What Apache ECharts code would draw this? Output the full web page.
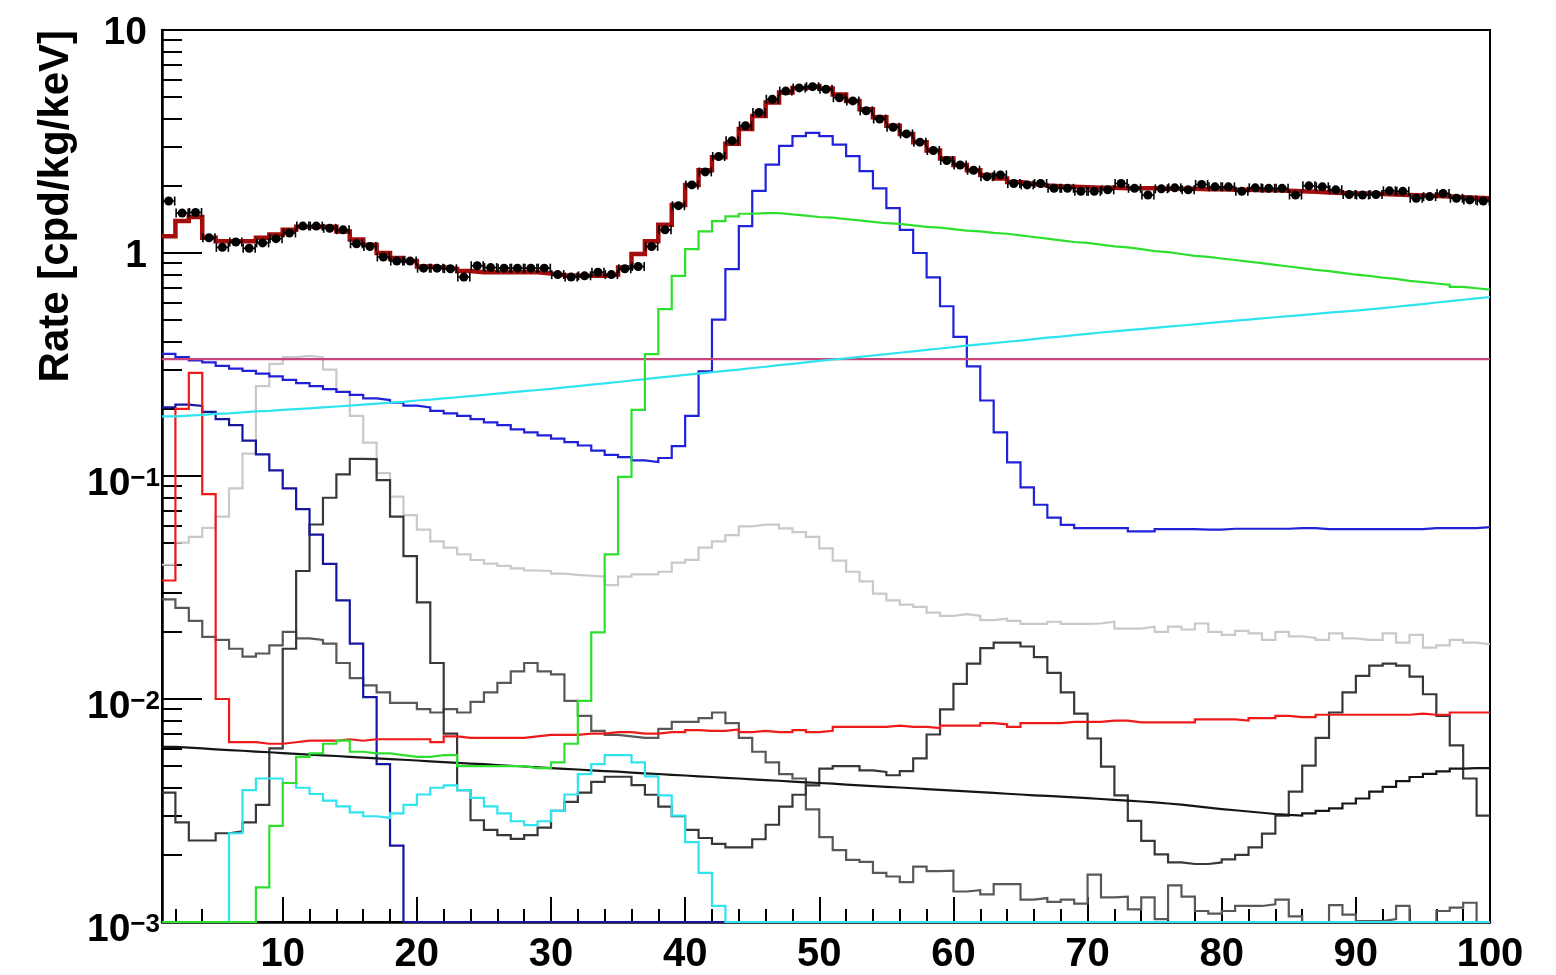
<!DOCTYPE html>
<html>
<head>
<meta charset="utf-8">
<script src="https://cdn.jsdelivr.net/npm/echarts@6/dist/echarts.min.js"></script>
<style>
  html, body { margin: 0; padding: 0; background: #ffffff; }
  #chart { width: 1556px; height: 975px; }
</style>
</head>
<body>
<div id="chart"></div>
<script>
// Energy spectrum, 1 keV bins from 1 to 100 keV, log rate axis.
const X_MIN = 1, X_MAX = 100, Y_MIN = 0.001, Y_MAX = 10;

// lower bin edges (keV)
const binLow = Array.from({ length: 99 }, (_, i) => X_MIN + i);

// tick values
const xMajorTicks = [10, 20, 30, 40, 50, 60, 70, 80, 90, 100];
const yDecades = [0.001, 0.01, 0.1, 1, 10];

// measured rate per bin
const measured = [
  1.71, 1.51, 1.52, 1.17, 1.06, 1.12, 1.05, 1.11, 1.16, 1.23,
  1.32, 1.32, 1.29, 1.27, 1.10, 1.07, 0.96, 0.92, 0.92, 0.855,
  0.855, 0.85, 0.78, 0.877, 0.86, 0.855, 0.855, 0.855, 0.855, 0.80,
  0.78, 0.79, 0.82, 0.80, 0.85, 0.87, 1.07, 1.27, 1.63, 2.02,
  2.31, 2.71, 3.19, 3.72, 4.27, 4.89, 5.32, 5.50, 5.57, 5.42,
  4.97, 4.81, 4.34, 3.99, 3.66, 3.42, 3.14, 2.88, 2.60, 2.48,
  2.35, 2.20, 2.24, 2.05, 2.02, 2.05, 1.95, 1.95, 1.89, 1.89,
  1.92, 2.05, 1.95, 1.82, 1.94, 1.96, 1.92, 2.03, 1.98, 1.98,
  1.89, 1.96, 1.95, 1.95, 1.82, 2.00, 1.98, 1.92, 1.83, 1.82,
  1.83, 1.90, 1.89, 1.76, 1.79, 1.85, 1.76, 1.73, 1.71
];

// sum of all components
const totalFit = [
  1.19, 1.39, 1.45, 1.17, 1.13, 1.13, 1.13, 1.17, 1.21, 1.27,
  1.31, 1.31, 1.31, 1.25, 1.15, 1.09, 1.00, 0.95, 0.92, 0.87,
  0.86, 0.85, 0.83, 0.82, 0.82, 0.82, 0.82, 0.82, 0.81, 0.795,
  0.79, 0.79, 0.79, 0.80, 0.86, 0.99, 1.13, 1.34, 1.64, 2.02,
  2.35, 2.69, 3.09, 3.60, 4.12, 4.73, 5.24, 5.50, 5.60, 5.46,
  5.14, 4.81, 4.41, 4.06, 3.72, 3.42, 3.14, 2.88, 2.65, 2.48,
  2.35, 2.24, 2.16, 2.08, 2.04, 2.01, 1.99, 1.98, 1.97, 1.96,
  1.96, 1.95, 1.95, 1.95, 1.94, 1.94, 1.94, 1.93, 1.93, 1.92,
  1.92, 1.91, 1.91, 1.90, 1.89, 1.88, 1.87, 1.86, 1.85, 1.85,
  1.84, 1.83, 1.82, 1.81, 1.80, 1.79, 1.78, 1.77, 1.76
];

// blue component with the 50 keV peak
const bluePeak = [
  0.353, 0.341, 0.330, 0.323, 0.312, 0.303, 0.296, 0.288, 0.280, 0.270,
  0.261, 0.253, 0.245, 0.238, 0.231, 0.223, 0.219, 0.213, 0.207, 0.203,
  0.196, 0.191, 0.186, 0.180, 0.174, 0.169, 0.162, 0.157, 0.152, 0.147,
  0.142, 0.137, 0.130, 0.1245, 0.1215, 0.1175, 0.1155, 0.1204, 0.136, 0.186,
  0.295, 0.503, 0.847, 1.32, 1.90, 2.49, 3.02, 3.34, 3.46, 3.34,
  3.06, 2.72, 2.33, 1.95, 1.59, 1.27, 1.00, 0.778, 0.577, 0.421,
  0.310, 0.218, 0.157, 0.115, 0.089, 0.0743, 0.065, 0.0604, 0.0584, 0.0584,
  0.0584, 0.0584, 0.0564, 0.0564, 0.0578, 0.0578, 0.0578, 0.0575, 0.0575, 0.058,
  0.058, 0.058, 0.058, 0.058, 0.0584, 0.0584, 0.0578, 0.0578, 0.0578, 0.0578,
  0.0578, 0.0578, 0.0578, 0.0578, 0.0584, 0.0584, 0.0584, 0.0584, 0.059
];

// dark blue low-energy component
const navyLow = [
  0.203, 0.209, 0.206, 0.194, 0.180, 0.169, 0.144, 0.125, 0.106, 0.088,
  0.071, 0.0546, 0.0404, 0.0277, 0.0177, 0.0102, 0.0051, 0.0022, 0, 0,
  0, 0, 0, 0, 0, 0, 0, 0, 0, 0,
  0, 0, 0, 0, 0, 0, 0, 0, 0, 0,
  0, 0, 0, 0, 0, 0, 0, 0, 0, 0,
  0, 0, 0, 0, 0, 0, 0, 0, 0, 0,
  0, 0, 0, 0, 0, 0, 0, 0, 0, 0,
  0, 0, 0, 0, 0, 0, 0, 0, 0, 0,
  0, 0, 0, 0, 0, 0, 0, 0, 0, 0,
  0, 0, 0, 0, 0, 0, 0, 0, 0
];

// green component
const greenComp = [
  0, 0, 0, 0, 0, 0, 0, 0.00143, 0.0027, 0.0042,
  0.0055, 0.0057, 0.0063, 0.0065, 0.0058, 0.0057, 0.0057, 0.0056, 0.0055, 0.0055,
  0.0056, 0.0056, 0.0050, 0.0050, 0.0050, 0.0050, 0.0050, 0.0049, 0.0049, 0.0052,
  0.0063, 0.0098, 0.0199, 0.0445, 0.099, 0.198, 0.352, 0.56, 0.79, 1.04,
  1.25, 1.39, 1.46, 1.50, 1.51, 1.51, 1.49, 1.47, 1.45, 1.44,
  1.42, 1.40, 1.38, 1.36, 1.35, 1.33, 1.31, 1.30, 1.28, 1.26,
  1.25, 1.23, 1.22, 1.20, 1.18, 1.16, 1.14, 1.12, 1.11, 1.09,
  1.07, 1.06, 1.04, 1.02, 1.01, 0.99, 0.97, 0.96, 0.945, 0.93,
  0.915, 0.90, 0.885, 0.87, 0.855, 0.84, 0.83, 0.815, 0.80, 0.79,
  0.775, 0.765, 0.75, 0.74, 0.73, 0.72, 0.705, 0.695, 0.685
];

// rising cyan continuum
const cyanRise = [
  0.185, 0.1865, 0.188, 0.190, 0.191, 0.193, 0.195, 0.196, 0.198, 0.1995,
  0.201, 0.203, 0.205, 0.207, 0.209, 0.211, 0.213, 0.215, 0.218, 0.220,
  0.223, 0.2255, 0.228, 0.231, 0.234, 0.237, 0.240, 0.243, 0.246, 0.2495,
  0.253, 0.257, 0.260, 0.264, 0.268, 0.272, 0.276, 0.280, 0.284, 0.288,
  0.292, 0.296, 0.300, 0.305, 0.309, 0.314, 0.318, 0.323, 0.328, 0.333,
  0.337, 0.342, 0.347, 0.352, 0.357, 0.362, 0.368, 0.373, 0.378, 0.384,
  0.389, 0.394, 0.400, 0.405, 0.411, 0.417, 0.422, 0.428, 0.434, 0.440,
  0.445, 0.451, 0.456, 0.462, 0.468, 0.473, 0.479, 0.485, 0.491, 0.497,
  0.503, 0.509, 0.515, 0.521, 0.527, 0.533, 0.540, 0.546, 0.552, 0.559,
  0.566, 0.574, 0.582, 0.590, 0.600, 0.608, 0.617, 0.626, 0.635
];

// cyan low-energy peaks
const cyanPeaks = [
  0, 0, 0, 0, 0, 0.0025, 0.0039, 0.0044, 0.0044, 0.0042,
  0.0040, 0.00375, 0.0035, 0.0033, 0.0031, 0.00298, 0.00293, 0.00307, 0.00335, 0.00373,
  0.0040, 0.0041, 0.0039, 0.0036, 0.0033, 0.00307, 0.00283, 0.00272, 0.00283, 0.00315,
  0.00373, 0.0046, 0.0051, 0.0056, 0.0056, 0.0052, 0.0045, 0.0037, 0.0030, 0.00228,
  0.00166, 0.00118, 0, 0, 0, 0, 0, 0, 0, 0,
  0, 0, 0, 0, 0, 0, 0, 0, 0, 0,
  0, 0, 0, 0, 0, 0, 0, 0, 0, 0,
  0, 0, 0, 0, 0, 0, 0, 0, 0, 0,
  0, 0, 0, 0, 0, 0, 0, 0, 0, 0,
  0, 0, 0, 0, 0, 0, 0, 0, 0
];

// flat background
const flatBkg = [
  0.334, 0.334, 0.334, 0.334, 0.334, 0.334, 0.334, 0.334, 0.334, 0.334,
  0.334, 0.334, 0.334, 0.334, 0.334, 0.334, 0.334, 0.334, 0.334, 0.334,
  0.334, 0.334, 0.334, 0.334, 0.334, 0.334, 0.334, 0.334, 0.334, 0.334,
  0.334, 0.334, 0.334, 0.334, 0.334, 0.334, 0.334, 0.334, 0.334, 0.334,
  0.334, 0.334, 0.334, 0.334, 0.334, 0.334, 0.334, 0.334, 0.334, 0.334,
  0.334, 0.334, 0.334, 0.334, 0.334, 0.334, 0.334, 0.334, 0.334, 0.334,
  0.334, 0.334, 0.334, 0.334, 0.334, 0.334, 0.334, 0.334, 0.334, 0.334,
  0.334, 0.334, 0.334, 0.334, 0.334, 0.334, 0.334, 0.334, 0.334, 0.334,
  0.334, 0.334, 0.334, 0.334, 0.334, 0.334, 0.334, 0.334, 0.334, 0.334,
  0.334, 0.334, 0.334, 0.334, 0.334, 0.334, 0.334, 0.334, 0.334
];

// red component with low-energy lines
const redComp = [
  0.034, 0.20, 0.29, 0.083, 0.0100, 0.0064, 0.0064, 0.0063, 0.0063, 0.0064,
  0.0065, 0.0065, 0.0065, 0.0066, 0.0065, 0.0066, 0.0066, 0.0066, 0.0066, 0.0066,
  0.0064, 0.0068, 0.0067, 0.0067, 0.0067, 0.0067, 0.0067, 0.0068, 0.0069, 0.0069,
  0.0069, 0.0070, 0.0070, 0.0071, 0.0071, 0.0070, 0.0070, 0.0071, 0.0071, 0.00725,
  0.0072, 0.0072, 0.0073, 0.0071, 0.0072, 0.0071, 0.0071, 0.00725, 0.0071, 0.0072,
  0.0075, 0.0075, 0.0075, 0.0075, 0.0076, 0.0075, 0.0075, 0.0074, 0.0076, 0.0076,
  0.0076, 0.0078, 0.0077, 0.0075, 0.0078, 0.0078, 0.0078, 0.0079, 0.0079, 0.0079,
  0.0080, 0.0080, 0.00785, 0.00785, 0.00785, 0.00785, 0.00785, 0.0081, 0.0081, 0.0081,
  0.0080, 0.0082, 0.0082, 0.0084, 0.0083, 0.0083, 0.0085, 0.0085, 0.0085, 0.0085,
  0.0085, 0.0085, 0.0085, 0.0086, 0.0085, 0.0085, 0.0087, 0.0087, 0.0087
];

// black component
const blackComp = [
  0.0061, 0.00605, 0.0060, 0.00595, 0.0059, 0.00586, 0.00581, 0.00577, 0.00572, 0.00568,
  0.00563, 0.00559, 0.00555, 0.0055, 0.00546, 0.00542, 0.00538, 0.00534, 0.0053, 0.00525,
  0.00521, 0.00517, 0.00513, 0.0051, 0.00506, 0.00502, 0.00498, 0.00494, 0.0049, 0.00486,
  0.00483, 0.00479, 0.00475, 0.00472, 0.00468, 0.00464, 0.00461, 0.00457, 0.00454, 0.0045,
  0.00447, 0.00443, 0.0044, 0.00436, 0.00433, 0.0043, 0.00426, 0.00423, 0.0042, 0.00417,
  0.00413, 0.0041, 0.00407, 0.00404, 0.00401, 0.00398, 0.00394, 0.00391, 0.00388, 0.00385,
  0.00382, 0.00379, 0.00376, 0.00373, 0.0037, 0.00368, 0.00365, 0.00362, 0.00359, 0.00356,
  0.00353, 0.0035, 0.00347, 0.00344, 0.0034, 0.00336, 0.00331, 0.00326, 0.00321, 0.00317,
  0.00313, 0.00309, 0.00305, 0.00302, 0.0030, 0.00307, 0.00315, 0.00323, 0.0034, 0.00358,
  0.00384, 0.00404, 0.00428, 0.00447, 0.00462, 0.00474, 0.00487, 0.0049, 0.0049
];

// light grey component
const greyLight = [
  0.040, 0.0503, 0.0533, 0.0585, 0.0658, 0.088, 0.126, 0.253, 0.318, 0.341,
  0.346, 0.341, 0.300, 0.240, 0.186, 0.141, 0.103, 0.0809, 0.0668, 0.0575,
  0.0509, 0.0477, 0.0445, 0.0420, 0.0405, 0.0395, 0.0385, 0.0377, 0.0375, 0.0365,
  0.0360, 0.0357, 0.0354, 0.0324, 0.0354, 0.0362, 0.0362, 0.0372, 0.0409, 0.0421,
  0.0477, 0.0509, 0.0543, 0.0594, 0.0605, 0.0605, 0.0582, 0.056, 0.0533, 0.0474,
  0.0417, 0.0372, 0.0337, 0.0297, 0.0277, 0.0265, 0.0259, 0.0244, 0.0236, 0.0240,
  0.0236, 0.0226, 0.0229, 0.0224, 0.0217, 0.0217, 0.0222, 0.0217, 0.0217, 0.0218,
  0.0222, 0.0207, 0.0207, 0.0211, 0.0200, 0.0211, 0.0205, 0.0218, 0.0200, 0.0194,
  0.0202, 0.0197, 0.0184, 0.0200, 0.0191, 0.0188, 0.0184, 0.0197, 0.0187, 0.0184,
  0.0184, 0.0197, 0.0179, 0.0194, 0.0170, 0.0174, 0.0184, 0.0179, 0.0176
];

// medium grey component
const greyMid = [
  0.0280, 0.0256, 0.0224, 0.0190, 0.0184, 0.0168, 0.0155, 0.0160, 0.0174, 0.0200,
  0.0187, 0.0184, 0.0177, 0.0145, 0.0124, 0.0115, 0.0107, 0.0096, 0.0096, 0.0090,
  0.0087, 0.0090, 0.0087, 0.0097, 0.0107, 0.0118, 0.0133, 0.0145, 0.0133, 0.0129,
  0.0098, 0.0084, 0.0072, 0.0069, 0.0068, 0.0067, 0.0067, 0.00735, 0.0079, 0.0079,
  0.0082, 0.0087, 0.0078, 0.0067, 0.0058, 0.0052, 0.0046, 0.0044, 0.0032, 0.0024,
  0.0021, 0.0019, 0.00186, 0.00166, 0.0016, 0.00151, 0.00177, 0.00169, 0.0017, 0.00137,
  0.00139, 0.00133, 0.00148, 0.00148, 0.00126, 0.00128, 0.00123, 0.00126, 0.00121, 0.00163,
  0.00129, 0.0013, 0.00114, 0.00129, 0.00103, 0.00146, 0.0013, 0.00112, 0.00109, 0.00112,
  0.00118, 0.00118, 0.0012, 0.00126, 0.00106, 0.00098, 0.00098, 0.00119, 0.00108, 0.00101,
  0.00101, 0.00103, 0.00118, 0.00098, 0.00098, 0.00112, 0.00116, 0.00122, 0.00097
];

// dark grey component
const greyDark = [
  0.0038, 0.0028, 0.00232, 0.00232, 0.0025, 0.00255, 0.0028, 0.00335, 0.0060, 0.0168,
  0.0375, 0.0606, 0.0799, 0.1017, 0.1194, 0.119, 0.0958, 0.0657, 0.0437, 0.0271,
  0.0145, 0.0070, 0.0039, 0.00286, 0.00259, 0.00245, 0.00236, 0.00245, 0.00265, 0.00315,
  0.00346, 0.0038, 0.00425, 0.00448, 0.00448, 0.00411, 0.00372, 0.00329, 0.00298, 0.00259,
  0.00238, 0.00224, 0.00216, 0.00216, 0.00235, 0.00273, 0.00329, 0.00372, 0.0041, 0.00487,
  0.005, 0.005, 0.00479, 0.00471, 0.00455, 0.00475, 0.00542, 0.00693, 0.00898, 0.0117,
  0.0144, 0.0169, 0.0179, 0.0179, 0.0172, 0.0154, 0.0131, 0.0107, 0.0086, 0.00665,
  0.00497, 0.0037, 0.00284, 0.00231, 0.00201, 0.00185, 0.00182, 0.00182, 0.00185, 0.00191,
  0.002, 0.00216, 0.00249, 0.003, 0.00384, 0.00503, 0.0067, 0.0087, 0.0107, 0.0127,
  0.0141, 0.0144, 0.0141, 0.0126, 0.0105, 0.0084, 0.0062, 0.0044, 0.0030
];

const FONT = '"Liberation Sans", Arial, Helvetica, sans-serif';

// minor tick positions
const xMinorTicks = [];
for (let v = 2; v < X_MAX; v += 2) if (v % 10 !== 0) xMinorTicks.push(v);
const yMinorTicks = [];
for (let d = 0; d < yDecades.length - 1; d++) {
  for (let k = 2; k <= 9; k++) yMinorTicks.push(+(yDecades[d] * k).toPrecision(3));
}

// histogram outline: contents below the axis floor sit on the frame edge
function stepPoints(vals) {
  const pts = vals.map((v, i) => [binLow[i], Math.max(v, Y_MIN)]);
  pts.push([binLow[binLow.length - 1] + 1, Math.max(vals[vals.length - 1], Y_MIN)]);
  return pts;
}

function hist(name, vals, color, width) {
  return {
    type: 'line',
    name: name,
    data: stepPoints(vals),
    step: 'end',
    symbol: 'none',
    showSymbol: false,
    silent: true,
    animation: false,
    lineStyle: { color: color, width: width, join: 'miter', cap: 'butt' }
  };
}

function yLabel(v) {
  const e = Math.round(Math.log10(v));
  if (e === 1) return '{p|10}';
  if (e === 0) return '{p|1}';
  return '{b|10}{s|\u2212' + (-e) + '}';
}

const chart = echarts.init(document.getElementById('chart'), null, { renderer: 'canvas' });

const tickLine = { color: '#000', width: 2 };

chart.setOption({
  backgroundColor: '#ffffff',
  animation: false,
  grid: {
    left: 162, top: 30, width: 1328, height: 902,
    show: true, borderColor: '#000', borderWidth: 2, backgroundColor: 'transparent'
  },
  xAxis: [
    {
      type: 'value', min: X_MIN, max: X_MAX, position: 'bottom',
      axisLine: { show: true, onZero: false, lineStyle: { color: '#000', width: 2.5 } },
      axisTick: { show: true, inside: true, length: 25, customValues: xMajorTicks, lineStyle: tickLine },
      axisLabel: {
        customValues: xMajorTicks, margin: 13, color: '#000',
        fontSize: 40, fontWeight: 'bold', fontFamily: FONT
      },
      splitLine: { show: false }
    },
    {
      type: 'value', min: X_MIN, max: X_MAX, position: 'bottom', offset: 0,
      axisLine: { show: false },
      axisTick: { show: true, inside: true, length: 13, customValues: xMinorTicks, lineStyle: tickLine },
      axisLabel: { show: false },
      splitLine: { show: false }
    }
  ],
  yAxis: [
    {
      type: 'log', logBase: 10, min: Y_MIN, max: Y_MAX, position: 'left',
      axisLine: { show: true, onZero: false, lineStyle: { color: '#000', width: 2.5 } },
      axisTick: { show: true, inside: true, length: 40, customValues: yDecades, lineStyle: tickLine },
      axisLabel: {
        customValues: yDecades, margin: 2, formatter: yLabel,
        rich: {
          p: { fontSize: 39, fontWeight: 'bold', fontFamily: FONT, color: '#000', padding: [6, 13, 0, 0], lineHeight: 44 },
          b: { fontSize: 39, fontWeight: 'bold', fontFamily: FONT, color: '#000', lineHeight: 48, padding: [16, 0, 0, 0] },
          s: { fontSize: 26, fontWeight: 'bold', fontFamily: FONT, color: '#000', verticalAlign: 'top', lineHeight: 30, padding: [14, 0, 0, 0] }
        }
      },
      splitLine: { show: false }
    },
    {
      type: 'log', logBase: 10, min: Y_MIN, max: Y_MAX, position: 'left', offset: 0,
      axisLine: { show: false },
      axisTick: { show: true, inside: true, length: 20, customValues: yMinorTicks, lineStyle: tickLine },
      axisLabel: { show: false },
      splitLine: { show: false }
    }
  ],
  graphic: [
    {
      type: 'text', x: 56, y: 30, rotation: Math.PI / 2,
      style: {
        text: 'Rate [cpd/kg/keV]', fill: '#000',
        font: 'bold 42px ' + FONT, align: 'right', verticalAlign: 'middle'
      }
    }
  ],
  series: [
    hist('grey light', greyLight, '#c9c9c9', 2.2),
    hist('grey mid', greyMid, '#585858', 2.2),
    hist('grey dark', greyDark, '#383838', 2.2),
    hist('navy low', navyLow, '#15159e', 2.2),
    hist('blue peak', bluePeak, '#1f22d8', 2.2),
    hist('flat', flatBkg, '#c8467c', 2.2),
    hist('black', blackComp, '#151515', 2.2),
    hist('red', redComp, '#ee1a1a', 2.2),
    hist('cyan peaks', cyanPeaks, '#2fe3ef', 2.2),
    hist('cyan rise', cyanRise, '#2fe3ef', 2.2),
    hist('green', greenComp, '#2ee02e', 2.2),
    hist('total', totalFit, '#a50c0c', 4.5),
    {
      type: 'custom',
      name: 'data',
      silent: true,
      animation: false,
      data: measured.map((v, i) => [binLow[i], binLow[i] + 1, v]),
      encode: { x: [0, 1], y: 2 },
      renderItem: function (params, api) {
        const lo = api.coord([api.value(0), api.value(2)]);
        const hi = api.coord([api.value(1), api.value(2)]);
        const cy = lo[1];
        const cx = (lo[0] + hi[0]) / 2;
        const half = 6;
        const st = { stroke: '#000', lineWidth: 1.6 };
        return {
          type: 'group',
          children: [
            { type: 'line', shape: { x1: cx - half, y1: cy, x2: cx + half, y2: cy }, style: st },
            { type: 'line', shape: { x1: cx - half, y1: cy - 4.5, x2: cx - half, y2: cy + 4.5 }, style: st },
            { type: 'line', shape: { x1: cx + half, y1: cy - 4.5, x2: cx + half, y2: cy + 4.5 }, style: st },
            { type: 'circle', shape: { cx: cx, cy: cy, r: 4.5 }, style: { fill: '#000' } }
          ]
        };
      },
      z: 5
    }
  ]
});
</script>
</body>
</html>
